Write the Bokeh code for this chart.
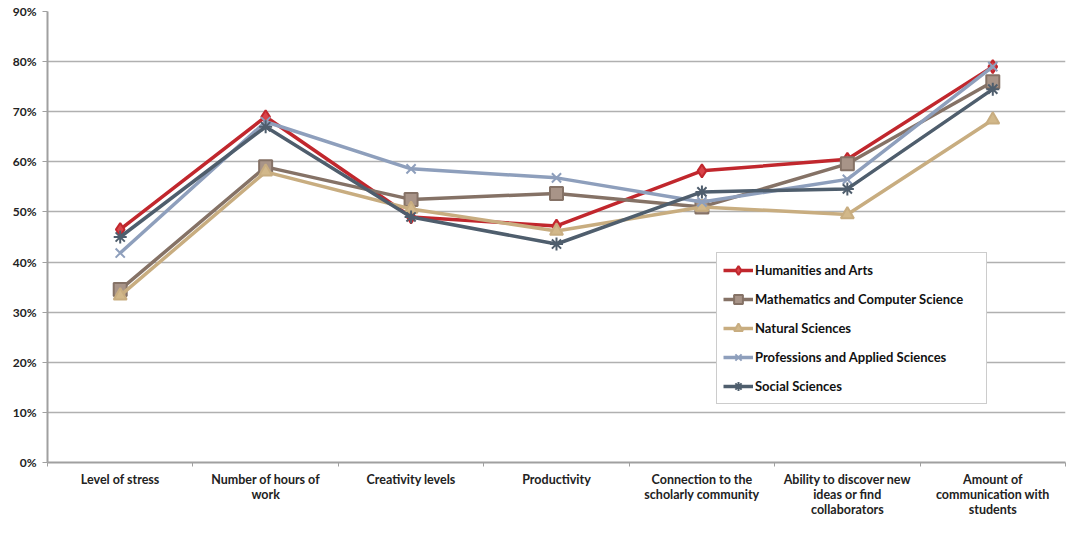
from bokeh.plotting import figure
from bokeh.models import Range1d, FixedTicker, Legend, LegendItem
from bokeh.embed import file_html
from bokeh.resources import INLINE

categories = ["Level of stress", "Number of hours of\nwork", "Creativity levels", "Productivity",
              "Connection to the\nscholarly community", "Ability to discover new\nideas or find\ncollaborators",
              "Amount of\ncommunication with\nstudents"]

humanities = [46.5, 69.0, 49.0, 47.2, 58.2, 60.5, 79.0]
mathematics = [34.5, 59.0, 52.5, 53.7, 51.0, 59.6, 76.0]
natural = [33.3, 58.0, 50.6, 46.2, 51.0, 49.5, 68.4]
professions = [41.8, 68.0, 58.6, 56.8, 52.0, 56.5, 79.0]
social = [45.0, 67.0, 49.0, 43.6, 54.0, 54.6, 74.5]

series_names = ["Humanities and Arts", "Mathematics and Computer Science", "Natural Sciences",
                "Professions and Applied Sciences", "Social Sciences"]
series_values = [humanities, mathematics, natural, professions, social]
colors = ["#c1272d", "#857266", "#c8ad80", "#8e9fbc", "#4f5e6d"]
fills = ["#d9444a", "#a89488", "#d2b88a", "#9aaac4", "#5c6b7a"]
markers = ["diamond", "square", "triangle", "x", "asterisk"]

FONT = "Lato"

xs = [i + 0.5 for i in range(len(categories))]

p = figure(width=1067, height=519, output_backend="svg", toolbar_location=None,
           x_range=Range1d(0, 7), y_range=Range1d(0, 90),
           min_border_left=47, min_border_right=2, min_border_top=11, min_border_bottom=44)
p.outline_line_color = None
p.background_fill_color = "white"
p.border_fill_color = "white"

# x axis
p.xaxis.ticker = FixedTicker(ticks=xs, minor_ticks=list(range(8)))
p.xaxis.major_label_overrides = {x: c for x, c in zip(xs, categories)}
p.xaxis.major_tick_line_color = None
p.xaxis.major_tick_in = 0
p.xaxis.major_tick_out = 0
p.xaxis.minor_tick_line_color = "#a0a0a0"
p.xaxis.minor_tick_in = 0
p.xaxis.minor_tick_out = 4
p.xaxis.axis_line_color = "#a0a0a0"
p.xaxis.axis_line_width = 2
p.xaxis.major_label_text_font = FONT
p.xaxis.major_label_text_font_style = "bold"
p.xaxis.major_label_text_font_size = "12.5px"
p.xaxis.major_label_text_color = "#222222"
p.xaxis.major_label_standoff = 5
p.xaxis.major_label_text_line_height = 1.0
p.xgrid.grid_line_color = None

# y axis
p.yaxis.ticker = FixedTicker(ticks=list(range(0, 91, 10)))
p.yaxis.major_label_overrides = {v: f"{v}%" for v in range(0, 91, 10)}
p.yaxis.axis_line_color = "#a0a0a0"
p.yaxis.axis_line_width = 2
p.yaxis.major_tick_line_color = "#a0a0a0"
p.yaxis.major_tick_in = 0
p.yaxis.major_tick_out = 5
p.yaxis.minor_tick_line_color = None
p.yaxis.major_label_text_font = FONT
p.yaxis.major_label_text_font_style = "bold"
p.yaxis.major_label_text_font_size = "12px"
p.yaxis.major_label_text_color = "#222222"
p.yaxis.major_label_standoff = 6
p.ygrid.grid_line_color = "#b0b0b0"
p.ygrid.grid_line_width = 1.5

items = []
for name, vals, col, fc, mk in zip(series_names, series_values, colors, fills, markers):
    r1 = p.line(xs, vals, line_color=col, line_width=3.5)
    r2 = p.scatter(xs, vals, marker=mk, size=13, fill_color=fc, line_color=col, line_width=2)
    items.append(LegendItem(label=name, renderers=[r1, r2]))

legend = Legend(items=items, location=(669, 58))
legend.label_text_font = FONT
legend.label_text_font_style = "bold"
legend.label_text_font_size = "13px"
legend.label_text_color = "#111111"
legend.border_line_color = "#999999"
legend.border_line_width = 1.5
legend.background_fill_alpha = 1
legend.spacing = 7
legend.glyph_height = 22
legend.label_height = 22
legend.glyph_width = 30
legend.label_width = 225
legend.label_standoff = 2
legend.padding = 6
legend.margin = 0
p.add_layout(legend, "center")

open("out.html", "w").write(file_html(p, INLINE))
